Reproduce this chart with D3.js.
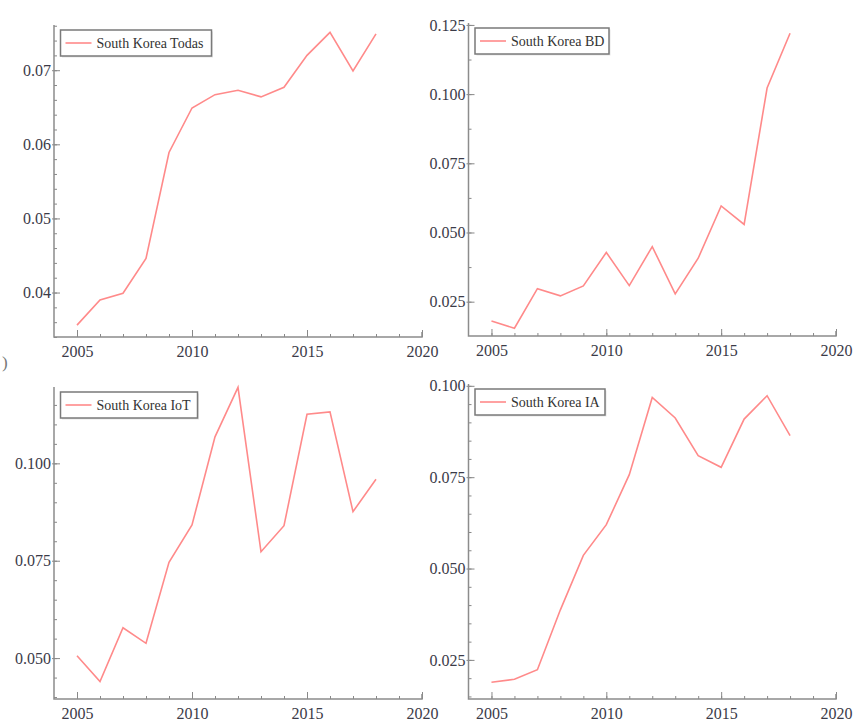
<!DOCTYPE html>
<html>
<head>
<meta charset="utf-8">
<script src="https://cdn.jsdelivr.net/npm/d3@7"></script>
<style>
  body { margin: 0; background: #fff; }
  svg { display: block; }
</style>
</head>
<body>
<script>
// data
let years = [2005, 2006, 2007, 2008, 2009, 2010, 2011, 2012, 2013, 2014, 2015, 2016, 2017, 2018]

let todas = [0.0356, 0.0390, 0.0399, 0.0446, 0.0589, 0.0649, 0.0667, 0.0673, 0.0664, 0.0677, 0.0720, 0.0751, 0.0699, 0.0749]
let bd = [0.0180, 0.0154, 0.0297, 0.0271, 0.0307, 0.0428, 0.0308, 0.0449, 0.0278, 0.0407, 0.0596, 0.0529, 0.1022, 0.1220]
let iot = [0.0506, 0.0440, 0.0578, 0.0538, 0.0746, 0.0842, 0.1068, 0.1195, 0.0773, 0.0840, 0.1126, 0.1132, 0.0876, 0.0959]
let ia = [0.0189, 0.0197, 0.0223, 0.0387, 0.0536, 0.0620, 0.0757, 0.0968, 0.0912, 0.0809, 0.0777, 0.0909, 0.0973, 0.0864]

let labels = ['South Korea Todas', 'South Korea BD', 'South Korea IoT', 'South Korea IA']

let xTicks = [2005, 2010, 2015, 2020]
let yTicksTodas = [0.04, 0.05, 0.06, 0.07]
let yTicksBD = [0.025, 0.050, 0.075, 0.100, 0.125]
let yTicksIoT = [0.050, 0.075, 0.100]
let yTicksIA = [0.025, 0.050, 0.075, 0.100]

let width = 856
let height = 724

let serif = "'Liberation Serif', 'Times New Roman', Times, 'DejaVu Serif', serif"

let panels = [
  { values: todas, label: labels[0], yTicks: yTicksTodas, fmt: '.2f', minor: 0.002,
    yDomain: [0.034, 0.0761], left: 54, right: 422, top: 25, bottom: 337, legendW: 151 },
  { values: bd, label: labels[1], yTicks: yTicksBD, fmt: '.3f', minor: 0.0125,
    yDomain: [0.0126, 0.1257], left: 468.5, right: 836, top: 23, bottom: 336, legendW: 134 },
  { values: iot, label: labels[2], yTicks: yTicksIoT, fmt: '.3f', minor: 0.005,
    yDomain: [0.0395, 0.1196], left: 54, right: 422, top: 387, bottom: 699, legendW: 137 },
  { values: ia, label: labels[3], yTicks: yTicksIA, fmt: '.3f', minor: 0.005,
    yDomain: [0.0143, 0.1005], left: 468.5, right: 836, top: 384, bottom: 699, legendW: 130 }
]

let svg = d3.select('body').append('svg')
  .attr('width', width)
  .attr('height', height)

// stray bracket left over from the cropped source figure
svg.append('text')
  .attr('x', 2)
  .attr('y', 368)
  .attr('font-family', serif)
  .attr('font-size', 17)
  .attr('fill', '#777')
  .text(')')

panels.forEach(function (p) {
  let x = d3.scaleLinear().domain([2004, 2020]).range([p.left, p.right])
  let y = d3.scaleLinear().domain(p.yDomain).range([p.bottom, p.top])

  let g = svg.append('g')

  // minor ticks on the x axis, one per year
  g.append('g')
    .attr('transform', 'translate(0,' + p.bottom + ')')
    .call(d3.axisBottom(x).tickValues(d3.range(2005, 2021)).tickSize(-3).tickFormat(''))
    .call(function (a) { a.select('.domain').remove() })
    .selectAll('line').attr('stroke', '#888')

  let xAxis = g.append('g')
    .attr('transform', 'translate(0,' + p.bottom + ')')
    .call(d3.axisBottom(x).tickValues(xTicks).tickSize(-7).tickPadding(8).tickFormat(d3.format('d')))
  xAxis.select('.domain').remove()
  xAxis.attr('font-family', serif).attr('font-size', 16)
  xAxis.selectAll('line').attr('stroke', '#888')
  xAxis.selectAll('text').attr('fill', '#3b3b48').attr('dy', '0.72em')

  // minor ticks on the y axis
  let lo = Math.ceil(p.yDomain[0] / p.minor - 1e-6)
  let hi = Math.floor(p.yDomain[1] / p.minor + 1e-6)
  let minorVals = d3.range(lo, hi + 1).map(function (i) { return i * p.minor })
  g.append('g')
    .attr('transform', 'translate(' + p.left + ',0)')
    .call(d3.axisLeft(y).tickValues(minorVals).tickSize(-3).tickFormat(''))
    .call(function (a) { a.select('.domain').remove() })
    .selectAll('line').attr('stroke', '#888')

  let yAxis = g.append('g')
    .attr('transform', 'translate(' + p.left + ',0)')
    .call(d3.axisLeft(y).tickValues(p.yTicks).tickSize(-6).tickPadding(3).tickFormat(d3.format(p.fmt)))
  yAxis.select('.domain').remove()
  yAxis.attr('font-family', serif).attr('font-size', 16)
  yAxis.selectAll('line').attr('stroke', '#888').attr('x1', -2)
  yAxis.selectAll('text').attr('fill', '#3b3b48')

  // axis lines
  g.append('path')
    .attr('d', 'M' + p.left + ',' + p.top + 'V' + p.bottom + 'H' + p.right + 'v-5')
    .attr('fill', 'none')
    .attr('stroke', '#8c8c8c')
    .attr('stroke-width', 1.5)

  let line = d3.line()
    .x(function (d, i) { return x(years[i]) })
    .y(function (d) { return y(d) })

  g.append('path')
    .datum(p.values)
    .attr('d', line)
    .attr('fill', 'none')
    .attr('stroke', '#ff8a8a')
    .attr('stroke-width', 1.6)

  // legend
  let lg = g.append('g')
    .attr('transform', 'translate(' + (p.left + 6.5) + ',' + (p.top + 5) + ')')
  lg.append('rect')
    .attr('x', 1.5).attr('y', 1.5)
    .attr('width', p.legendW).attr('height', 26)
    .attr('fill', '#e6e6e6')
  lg.append('rect')
    .attr('width', p.legendW).attr('height', 26)
    .attr('fill', '#fff')
    .attr('stroke', '#7a7a7a')
    .attr('stroke-width', 1.5)
  lg.append('line')
    .attr('x1', 5).attr('x2', 31)
    .attr('y1', 13).attr('y2', 13)
    .attr('stroke', '#ff8a8a')
    .attr('stroke-width', 1.6)
  lg.append('text')
    .attr('x', 36)
    .attr('y', 18)
    .attr('font-family', serif)
    .attr('font-size', 14)
    .attr('fill', '#333')
    .text(p.label)
})
</script>
</body>
</html>
